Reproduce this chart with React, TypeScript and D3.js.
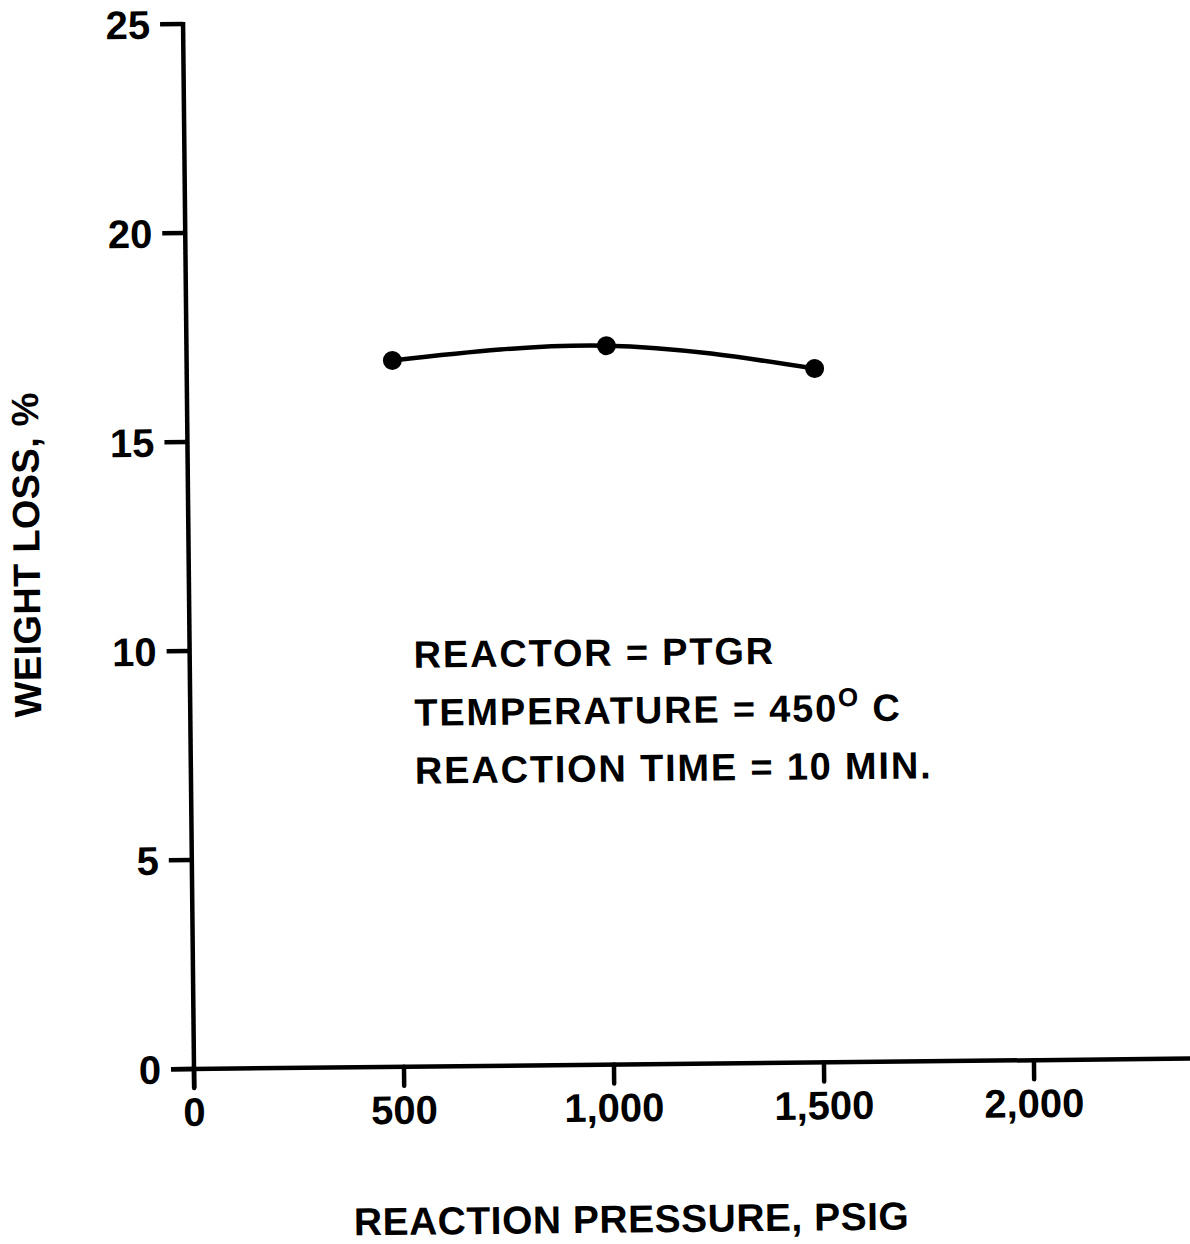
import React from "react";
import * as d3 from "d3";

const pressure = [490, 1000, 1495];
const weightLoss = [16.9, 17.2, 16.6];
const xTicks = [0, 500, 1000, 1500, 2000];
const xTickLabels = ["0", "500", "1,000", "1,500", "2,000"];
const yTicks = [0, 5, 10, 15, 20, 25];
const annotations = ["REACTOR = PTGR", "TEMPERATURE = 450", "REACTION TIME = 10 MIN."];

const W = 1190;
const H = 1244;
const FONT = "'Liberation Sans', Arial, Helvetica, sans-serif";

export default function App() {
  const x = d3.scaleLinear().domain([0, 2400]).range([194, 194 + 2400 * 0.42]);
  const y = d3.scaleLinear().domain([0, 25]).range([1069, 24]);
  const line = d3
    .line<number>()
    .x((_, i) => x(pressure[i]))
    .y((d) => y(d))
    .curve(d3.curveNatural);
  const x0 = x(0);
  const y0 = y(0);
  return (
    <svg
      width={W}
      height={H}
      style={{ position: "absolute", left: 0, top: 0, background: "#fff" }}
      fontFamily={FONT}
      fontWeight="bold"
    >
      <rect width={W} height={H} fill="#fff" />
      <g transform={`rotate(-0.6 ${x0} ${y0})`}>
        {/* y axis */}
        <line x1={x0} x2={x0} y1={y(25) - 2} y2={y0 + 19} stroke="#000" strokeWidth={4.5} />
        {yTicks.map((t) => (
          <g key={"y" + t}>
            <line x1={x0 - 23} x2={x0} y1={y(t)} y2={y(t)} stroke="#000" strokeWidth={4.5} />
            <text x={x0 - 33} y={y(t)} dy="0.36em" textAnchor="end" fontSize={40} fill="#000">
              {t}
            </text>
          </g>
        ))}
        {/* x axis */}
        <line x1={x0 - 23} x2={x(2400)} y1={y0} y2={y0} stroke="#000" strokeWidth={4.5} />
        {xTicks.map((t, i) => (
          <g key={"x" + t}>
            <line x1={x(t)} x2={x(t)} y1={y0} y2={y0 + 19} stroke="#000" strokeWidth={4.5} strokeLinecap="round" />
            <text x={x(t)} y={y0 + 57} textAnchor="middle" fontSize={40} fill="#000">
              {xTickLabels[i]}
            </text>
          </g>
        ))}
        {/* curve */}
        <path d={line(weightLoss) || ""} fill="none" stroke="#000" strokeWidth={4.5} />
        {weightLoss.map((v, i) => (
          <circle key={"p" + i} cx={x(pressure[i])} cy={y(v)} r={9.5} fill="#000" />
        ))}
        {/* annotation */}
        <text x={418} y={670} fontSize={38} letterSpacing={1.8} fill="#000">
          {annotations[0]}
        </text>
        <text x={418} y={728} fontSize={38} letterSpacing={1.8} fill="#000">
          {annotations[1]}
          <tspan dy={-15} fontSize={26}>O</tspan>
          <tspan dy={15}> C</tspan>
        </text>
        <text x={418} y={786} fontSize={38} letterSpacing={1.8} fill="#000">
          {annotations[2]}
        </text>
        {/* axis titles */}
        <text x={630} y={1237} textAnchor="middle" fontSize={39} letterSpacing={0.5} fill="#000">
          REACTION PRESSURE, PSIG
        </text>
        <text
          transform={`translate(45, 553) rotate(-90)`}
          textAnchor="middle"
          fontSize={38}
          letterSpacing={0.3}
          fill="#000"
        >
          WEIGHT LOSS, %
        </text>
      </g>
    </svg>
  );
}
